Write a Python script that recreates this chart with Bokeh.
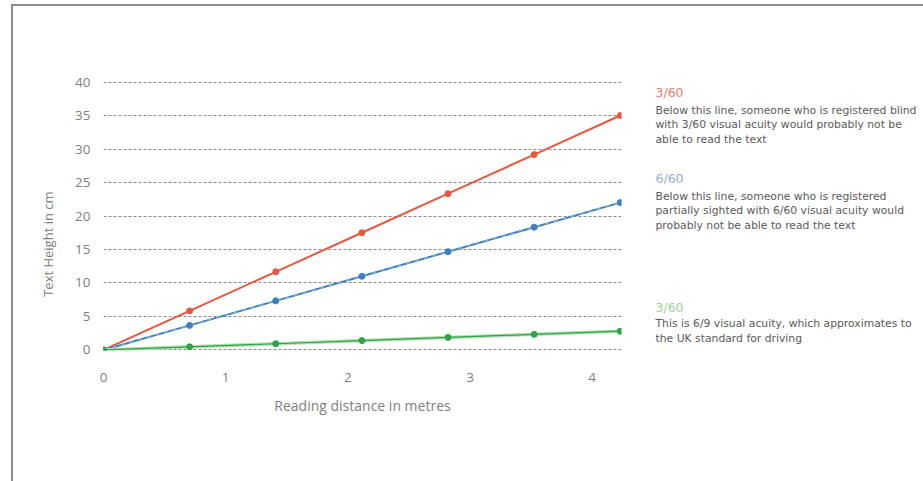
import math
from bokeh.plotting import figure
from bokeh.layouts import row
from bokeh.models import Range1d, FixedTicker
from bokeh.core.properties import value
from bokeh.embed import file_html
from bokeh.resources import INLINE

# ---- data ----
distance_m = [0, 0.705, 1.41, 2.115, 2.82, 3.525, 4.23]
height_3_60 = [0, 5.83, 11.67, 17.5, 23.33, 29.17, 35.0]
height_6_60 = [0, 3.67, 7.33, 11.0, 14.67, 18.33, 22.0]
height_6_9 = [0, 0.47, 0.93, 1.4, 1.87, 2.33, 2.8]
x_ticks = [0, 1, 2, 3, 4]
y_ticks = [0, 5, 10, 15, 20, 25, 30, 35, 40]

x_title = "Reading distance in metres"
y_title = "Text Height in cm"

note_headings = ["3/60", "6/60", "3/60"]
note_heading_y = [38.41, 25.53, 6.35]
note_lines = [
    ["Below this line, someone who is registered blind",
     "with 3/60 visual acuity would probably not be",
     "able to read the text"],
    ["Below this line, someone who is registered",
     "partially sighted with 6/60 visual acuity would",
     "probably not be able to read the text"],
    ["This is 6/9 visual acuity, which approximates to",
     "the UK standard for driving"],
]
note_lines_y = [
    [35.79, 33.71, 31.48],
    [22.94, 20.82, 18.59],
    [3.97, 1.64],
]

RED = "#e8573f"
BLUE = "#3d7fbf"
GREEN = "#2fa447"
heading_colors = ["#f07a68", "#8eb1d8", "#97d49a"]
AXIS_GREY = "#808080"

TOP, BOTTOM = 75, 131
H = 475
y_range = Range1d(-0.08, 40.08)


def side_figure(width):
    f = figure(width=width, height=H, output_backend="svg", toolbar_location=None,
               x_range=Range1d(0, width), y_range=y_range,
               x_axis_location=None, y_axis_location=None,
               min_border_left=0, min_border_right=0,
               min_border_top=TOP, min_border_bottom=BOTTOM)
    f.outline_line_color = None
    f.xgrid.grid_line_color = None
    f.ygrid.grid_line_color = None
    f.border_fill_color = "white"
    return f


# ---- left panel: y-axis title ----
left = side_figure(50)
left.text(x=[34], y=[15.8], text=[y_title], angle=math.pi / 2,
          text_align="center", text_baseline="middle",
          text_font=value("Open Sans"), text_font_size="13px", text_color=AXIS_GREY)

# ---- main chart ----
p = figure(width=570, height=H, output_backend="svg", toolbar_location=None,
           x_range=Range1d(0, 4.24), y_range=y_range,
           min_border_left=40, min_border_right=12, min_border_top=TOP,
           min_border_bottom=BOTTOM)
p.outline_line_color = None
p.background_fill_color = "white"
p.border_fill_color = "white"

p.xgrid.grid_line_color = None
p.ygrid.grid_line_color = "#8a8a8a"
p.ygrid.grid_line_dash = "3 2"
p.ygrid.grid_line_width = 1
p.ygrid.ticker = FixedTicker(ticks=y_ticks)

for ax in (p.xaxis[0], p.yaxis[0]):
    ax.axis_line_color = None
    ax.major_tick_line_color = None
    ax.minor_tick_line_color = None
    ax.major_tick_out = 0
    ax.major_tick_in = 0
    ax.major_label_text_font = "Open Sans"
    ax.major_label_text_font_size = "13.5px"
    ax.major_label_text_color = AXIS_GREY

p.xaxis.ticker = FixedTicker(ticks=x_ticks)
p.yaxis.ticker = FixedTicker(ticks=y_ticks)
p.xaxis.major_label_standoff = 22
p.yaxis.major_label_standoff = 13
p.xaxis.axis_label = x_title
p.xaxis.axis_label_text_font = "Open Sans"
p.xaxis.axis_label_text_font_style = "normal"
p.xaxis.axis_label_text_font_size = "14px"
p.xaxis.axis_label_text_color = AXIS_GREY
p.xaxis.axis_label_standoff = 11

p.line(distance_m, height_3_60, line_color=RED, line_width=2)
p.scatter(distance_m, height_3_60, size=6, fill_color=RED, line_color=RED)

p.line(distance_m, height_6_60, line_color=BLUE, line_width=2)
p.line(distance_m, height_6_60, line_color="#a9c8e6", line_width=0.8, line_dash="4 5")
p.scatter(distance_m, height_6_60, size=6, fill_color=BLUE, line_color=BLUE)

p.line(distance_m, height_6_9, line_color="#b3dfb4", line_width=3.5)
p.line(distance_m, height_6_9, line_color=GREEN, line_width=1.2)
p.scatter(distance_m, height_6_9, size=6, fill_color=GREEN, line_color=GREEN)

# ---- right panel: notes ----
right = side_figure(290)
NOTE_X = 22
right.text(x=[NOTE_X] * len(note_headings), y=note_heading_y, text=note_headings,
           text_color=heading_colors, text_baseline="middle",
           text_font=value("DejaVu Sans"), text_font_size="12.5px")
body_text, body_y = [], []
for lines, lys in zip(note_lines, note_lines_y):
    body_text += lines
    body_y += lys
right.text(x=[NOTE_X] * len(body_text), y=body_y, text=body_text,
           text_color="#5a5a5a", text_baseline="middle",
           text_font=value("DejaVu Sans"), text_font_size="10.8px")

layout = row(left, p, right, spacing=0)
layout.styles = {"border-top": "2px solid #8c8c8c", "border-left": "2px solid #8c8c8c",
                 "margin-left": "11px", "margin-top": "4px"}

open("out.html", "w").write(file_html(layout, INLINE))
